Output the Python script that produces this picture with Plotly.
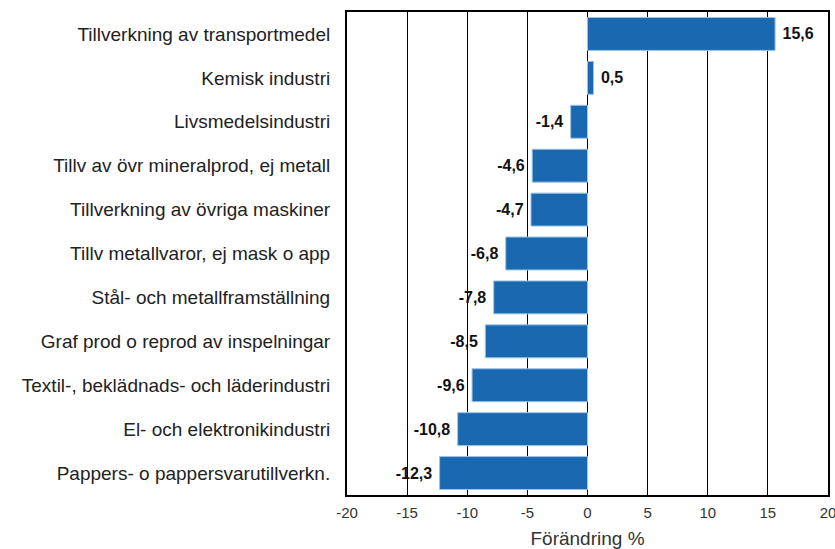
import plotly.graph_objects as go

categories = [
    "Tillverkning av transportmedel",
    "Kemisk industri",
    "Livsmedelsindustri",
    "Tillv av övr mineralprod, ej metall",
    "Tillverkning av övriga maskiner",
    "Tillv metallvaror, ej mask o app",
    "Stål- och metallframställning",
    "Graf prod o reprod av inspelningar",
    "Textil-, beklädnads- och läderindustri",
    "El- och elektronikindustri",
    "Pappers- o pappersvarutillverkn.",
]
values = [15.6, 0.5, -1.4, -4.6, -4.7, -6.8, -7.8, -8.5, -9.6, -10.8, -12.3]
tick_vals = [-20, -15, -10, -5, 0, 5, 10, 15, 20]
labels = [f"{v:.1f}".replace(".", ",") for v in values]
texts = [("\u00a0" + l) if v >= 0 else (l + "\u00a0") for l, v in zip(labels, values)]

fig = go.Figure(go.Bar(
    x=values, y=categories, orientation="h",
    marker=dict(color="#1a69b0", line=dict(color="#9cc3e6", width=1)),
    text=texts, textposition="outside", cliponaxis=False,
    textfont=dict(family="Liberation Sans Narrow, Arial Narrow, Liberation Sans", size=16, color="#111"),
    texttemplate="<b>%{text}</b>",
    width=0.75,
))

fig.update_layout(
    width=835, height=549,
    margin=dict(l=347, r=7, t=12, b=54, autoexpand=False),
    paper_bgcolor="white", plot_bgcolor="white",
    showlegend=False,
    font=dict(family="Liberation Sans, Arial, sans-serif", color="#222"),
)
fig.update_xaxes(
    range=[-20, 20.0001], tickvals=tick_vals, ticktext=[str(t) for t in tick_vals],
    showgrid=True, gridcolor="#000", gridwidth=1, zeroline=False,
    showline=True, linecolor="#000", linewidth=2, mirror=True,
    tickfont=dict(size=15, color="#333"), automargin=False, ticklabelstandoff=3,
    ticklabeloverflow="allow",
    title=dict(text="Förändring %", font=dict(size=19, color="#333"), standoff=19),
    ticks="", fixedrange=True,
)
fig.update_yaxes(
    autorange="reversed", showgrid=False, zeroline=False, automargin=False,
    showline=True, linecolor="#000", linewidth=2, mirror=True,
    tickfont=dict(size=19, color="#222"), ticks="", ticklabelstandoff=11,
    fixedrange=True,
)
fig.write_html("out.html", post_script="document.body.style.margin='0';",
               config={"displayModeBar": False})
